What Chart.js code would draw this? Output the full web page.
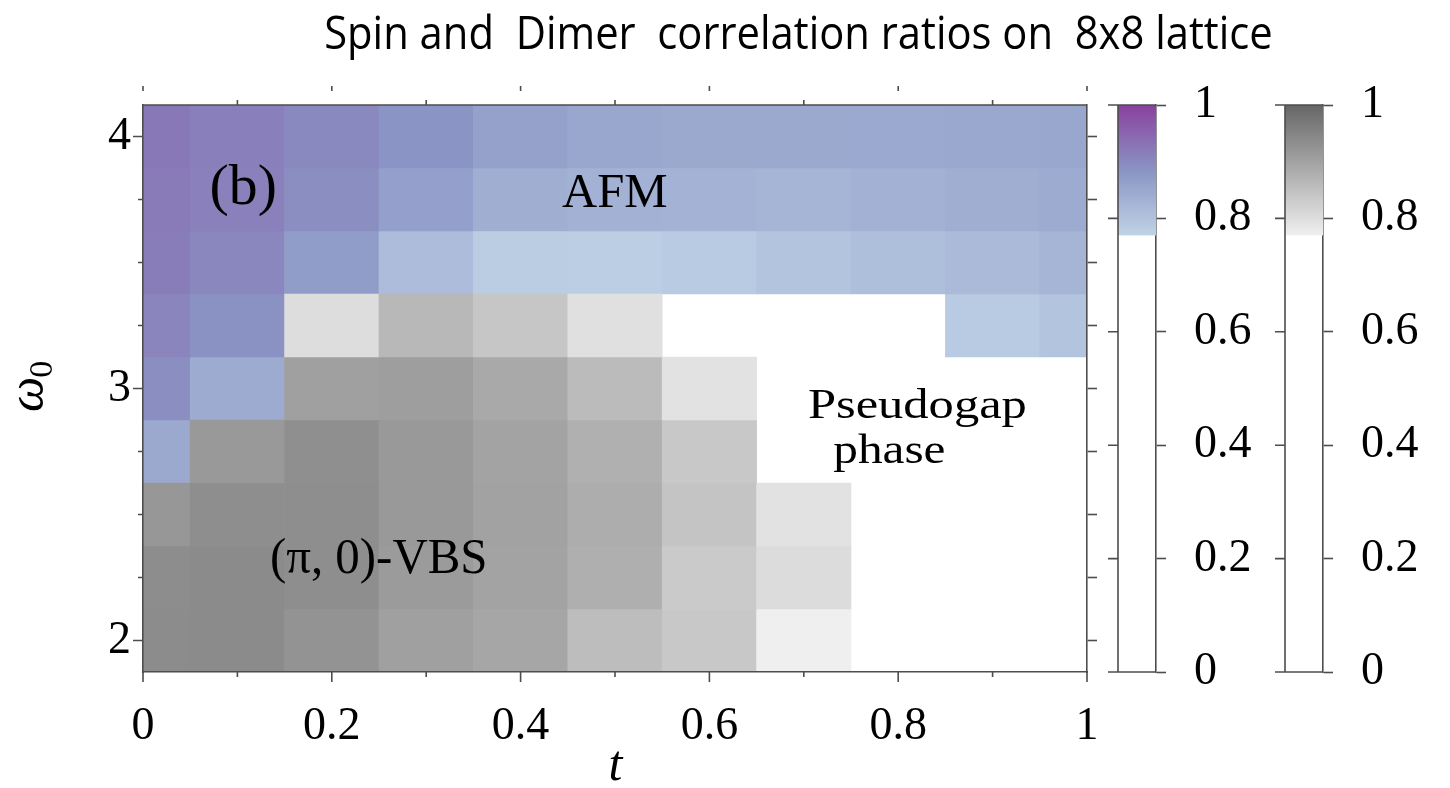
<!DOCTYPE html>
<html lang="en">
<head>
<meta charset="UTF-8">
<title>Spin and Dimer correlation ratios</title>
<script src="https://cdn.jsdelivr.net/npm/chart.js"></script>
<style>
  html, body { margin: 0; padding: 0; background: #ffffff; }
</style>
</head>
<body>
<canvas id="grafico" width="1450" height="788"></canvas>

<script>
// columns (t) and rows (omega_0)
const tValues = [0, 0.1, 0.2, 0.3, 0.4, 0.5, 0.6, 0.7, 0.8, 0.9, 1.0];
const omegaValues = [2.0, 2.25, 2.5, 2.75, 3.0, 3.25, 3.5, 3.75, 4.0];

// spin correlation ratio, one row per omega_0 (bottom -> top), null = below the colour range
const spinRatio = [
  [null, null, null, null, null, null, null, null, null, null, null],
  [null, null, null, null, null, null, null, null, null, null, null],
  [null, null, null, null, null, null, null, null, null, null, null],
  [0.847, null, null, null, null, null, null, null, null, null, null],
  [0.893, 0.843, null, null, null, null, null, null, null, null, null],
  [0.906, 0.889, null, null, null, null, null, null, null, 0.785, 0.797],
  [0.917, 0.904, 0.869, 0.812, 0.781, 0.779, 0.785, 0.797, 0.806, 0.816, 0.825],
  [0.921, 0.913, 0.893, 0.863, 0.838, 0.830, 0.828, 0.825, 0.832, 0.838, 0.843],
  [0.924, 0.914, 0.900, 0.883, 0.861, 0.852, 0.847, 0.847, 0.848, 0.850, 0.853]
];

// dimer correlation ratio, same layout
const dimerRatio = [
  [0.937, 0.938, 0.925, 0.903, 0.893, 0.855, 0.837, 0.772, null, null, null],
  [0.935, 0.938, 0.933, 0.912, 0.898, 0.878, 0.833, 0.803, null, null, null],
  [0.918, 0.933, 0.933, 0.915, 0.900, 0.882, 0.843, 0.793, null, null, null],
  [null, 0.915, 0.932, 0.915, 0.898, 0.877, 0.837, null, null, null, null],
  [null, null, 0.903, 0.907, 0.888, 0.858, 0.793, null, null, null, null],
  [null, null, 0.802, 0.863, 0.840, 0.797, null, null, null, null, null],
  [null, null, null, null, null, null, null, null, null, null, null],
  [null, null, null, null, null, null, null, null, null, null, null],
  [null, null, null, null, null, null, null, null, null, null, null]
];

// ticks
const xTickValues = [0, 0.1, 0.2, 0.3, 0.4, 0.5, 0.6, 0.7, 0.8, 0.9, 1.0];
const xTickLabels = ['0', '', '0.2', '', '0.4', '', '0.6', '', '0.8', '', '1'];
const yTickValues = [2.0, 2.25, 2.5, 2.75, 3.0, 3.25, 3.5, 3.75, 4.0];
const yTickLabels = ['2', '', '', '', '3', '', '', '', '4'];
const cbTickValues = [0, 0.2, 0.4, 0.6, 0.8, 1.0];
const cbTickLabels = ['0', '0.2', '0.4', '0.6', '0.8', '1'];

const titleText = 'Spin and  Dimer  correlation ratios on  8x8 lattice';

// text inside the map (t, omega_0 of the baseline centre)
const annotations = [
  { text: '(b)', t: 0.106, w: 3.732, size: 58, ink: 63 },
  { text: 'AFM', t: 0.4995, w: 3.721, size: 49, ink: 105 },
  { text: 'Pseudogap', t: 0.820, w: 2.882, size: 43, ink: 216 },
  { text: 'phase', t: 0.790, w: 2.703, size: 43, ink: 111 },
  { text: '(π, 0)-VBS', t: 0.2493, w: 2.269, size: 50, ink: 213 }
];

// colour maps (value -> rgb), shown only above the threshold
const colorThreshold = 0.77;
const spinStops = [[0.77, [191, 211, 230]], [0.885, [138, 148, 196]], [1.0, [136, 65, 157]]];
const dimerStops = [[0.77, [240, 240, 240]], [1.0, [102, 102, 102]]];

const SERIF = "'Liberation Serif', 'DejaVu Serif', serif";
const axisColor = '#4d4d4d';

function mix(stops, v) {
  if (v <= stops[0][0]) return stops[0][1];
  for (let i = 1; i < stops.length; i++) {
    if (v <= stops[i][0]) {
      const v0 = stops[i - 1][0], c0 = stops[i - 1][1];
      const v1 = stops[i][0], c1 = stops[i][1];
      const f = (v - v0) / (v1 - v0);
      return c0.map((c, k) => Math.round(c + (c1[k] - c) * f));
    }
  }
  return stops[stops.length - 1][1];
}
const rgb = c => `rgb(${c[0]},${c[1]},${c[2]})`;

const half = (omegaValues[1] - omegaValues[0]) / 2;

// one floating bar per cell
function cellData(values) {
  const out = [];
  omegaValues.forEach((w, i) => {
    tValues.forEach((t, j) => {
      const v = values[i][j];
      if (v === null) return;
      out.push({ x: t, y: [w - half, w + half], v: v });
    });
  });
  return out;
}

// text drawn with its ink squeezed/stretched to a given width
function drawText(ctx, str, cx, baseline, font, inkWidth) {
  ctx.save();
  ctx.font = font;
  ctx.textAlign = 'left';
  ctx.textBaseline = 'alphabetic';
  const m = ctx.measureText(str);
  const w = m.actualBoundingBoxLeft + m.actualBoundingBoxRight;
  const sx = inkWidth ? inkWidth / w : 1;
  ctx.translate(cx, baseline);
  ctx.scale(sx, 1);
  ctx.fillText(str, -(m.actualBoundingBoxRight - m.actualBoundingBoxLeft) / 2, 0);
  ctx.restore();
}

const decorations = {
  id: 'decorations',
  afterDraw(chart) {
    const ctx = chart.ctx;
    const { top, bottom, left, right } = chart.chartArea;
    const sx = chart.scales.x, sy = chart.scales.y;

    ctx.save();
    ctx.strokeStyle = axisColor;
    ctx.lineWidth = 1.6;
    ctx.beginPath();
    ctx.moveTo(left, top); ctx.lineTo(right, top);
    sx.ticks.forEach((tk, i) => {
      const px = sx.getPixelForValue(tk.value);
      const major = xTickLabels[i] !== '';
      ctx.moveTo(px, bottom); ctx.lineTo(px, bottom + (major ? 10 : 5));
      if (major) { ctx.moveTo(px, top - 19); ctx.lineTo(px, top - 14); }
      else { ctx.moveTo(px, top); ctx.lineTo(px, top - 5); }
    });
    sy.ticks.forEach((tk, i) => {
      const py = sy.getPixelForValue(tk.value);
      const major = yTickLabels[i] !== '';
      ctx.moveTo(left, py); ctx.lineTo(left - (major ? 10 : 5), py);
    });
    ctx.stroke();

    // colour bars
    [['cb1', spinStops], ['cb2', dimerStops]].forEach(([id, stops]) => {
      const s = chart.scales[id];
      const x1 = s.left, x0 = x1 - 38;
      const yLo = s.getPixelForValue(colorThreshold), yHi = s.getPixelForValue(1);
      const g = ctx.createLinearGradient(0, yLo, 0, yHi);
      for (let k = 0; k <= 20; k++) {
        g.addColorStop(k / 20, rgb(mix(stops, colorThreshold + (1 - colorThreshold) * k / 20)));
      }
      ctx.fillStyle = g;
      ctx.fillRect(x0, yHi, x1 - x0, yLo - yHi);
      ctx.beginPath();
      ctx.moveTo(x0, s.top); ctx.lineTo(x0, s.bottom);
      s.ticks.forEach(tk => {
        const py = s.getPixelForValue(tk.value);
        ctx.moveTo(x0 - 10, py); ctx.lineTo(x0, py);
      });
      ctx.moveTo(x0, s.top); ctx.lineTo(x1, s.top);
      ctx.moveTo(x0, s.bottom); ctx.lineTo(x1, s.bottom);
      ctx.stroke();
    });

    ctx.fillStyle = '#000000';
    // title
    drawText(ctx, titleText, 798.5, 49, "46px 'Open Sans'", 945);

    // annotations
    annotations.forEach(a => {
      drawText(ctx, a.text, sx.getPixelForValue(a.t), sy.getPixelForValue(a.w), `${a.size}px ${SERIF}`, a.ink);
    });

    // axis titles
    drawText(ctx, 't', sx.getPixelForValue(0.5) + 2, 780, `italic 50px ${SERIF}`);
    ctx.save();
    ctx.translate(43, 412);
    ctx.rotate(-Math.PI / 2);
    ctx.textAlign = 'left';
    ctx.textBaseline = 'alphabetic';
    ctx.font = `italic 50px ${SERIF}`;
    ctx.fillText('ω', 0, 0);
    const wW = ctx.measureText('ω').width;
    ctx.font = `34px ${SERIF}`;
    ctx.fillText('0', wW - 1, 9);
    ctx.restore();
    ctx.restore();
  }
};

const tickFont = { family: SERIF, size: 46 };

new Chart(document.getElementById('grafico'), {
  type: 'bar',
  data: {
    datasets: [
      {
        label: 'Dimer',
        data: cellData(dimerRatio),
        xAxisID: 'x', yAxisID: 'y',
        backgroundColor: c => c.raw ? rgb(mix(dimerStops, c.raw.v)) : 'transparent',
        grouped: false, barPercentage: 1, categoryPercentage: 1, borderWidth: 0, clip: 0
      },
      {
        label: 'Spin',
        data: cellData(spinRatio),
        xAxisID: 'x', yAxisID: 'y',
        backgroundColor: c => c.raw ? rgb(mix(spinStops, c.raw.v)) : 'transparent',
        grouped: false, barPercentage: 1, categoryPercentage: 1, borderWidth: 0, clip: 0
      }
    ]
  },
  options: {
    responsive: false,
    animation: false,
    layout: { padding: { top: 105, left: 0, right: 0, bottom: 0 } },
    plugins: {
      legend: { display: false },
      title: { display: false },
      tooltip: { enabled: false }
    },
    scales: {
      x: {
        type: 'linear', position: 'bottom', offset: false,
        min: tValues[0], max: tValues[tValues.length - 1],
        afterBuildTicks: s => { s.ticks = xTickValues.map(v => ({ value: v })); },
        afterFit: s => { s.height = 116; },
        ticks: {
          callback: (v, i) => xTickLabels[i],
          font: tickFont, color: '#000000', padding: 17,
          maxRotation: 0, autoSkip: false
        },
        grid: { offset: false, drawOnChartArea: false, tickLength: 10, tickColor: 'transparent' },
        border: { color: axisColor, width: 1.6, z: 1 }
      },
      y: {
        type: 'linear', position: 'left',
        min: omegaValues[0] - half, max: omegaValues[omegaValues.length - 1] + half,
        afterBuildTicks: s => { s.ticks = yTickValues.map(v => ({ value: v })); },
        afterFit: s => { s.width = 143; },
        ticks: {
          callback: (v, i) => yTickLabels[i],
          font: tickFont, color: '#000000', padding: 2, autoSkip: false
        },
        grid: { drawOnChartArea: false, tickLength: 10, tickColor: 'transparent' },
        border: { color: axisColor, width: 1.6, z: 1 }
      },
      y2: {
        type: 'linear', position: 'right', weight: 0,
        min: omegaValues[0] - half, max: omegaValues[omegaValues.length - 1] + half,
        afterBuildTicks: s => { s.ticks = yTickValues.map(v => ({ value: v })); },
        afterFit: s => { s.width = 69; },
        ticks: { display: false },
        grid: { drawOnChartArea: false, tickLength: 10, tickColor: axisColor, tickWidth: 1.6 },
        border: { color: axisColor, width: 1.6, z: 1 }
      },
      cb1: {
        type: 'linear', position: 'right', weight: 1, min: 0, max: 1,
        afterBuildTicks: s => { s.ticks = cbTickValues.map(v => ({ value: v })); },
        afterFit: s => { s.width = 167; },
        ticks: {
          callback: (v, i) => cbTickLabels[i],
          font: tickFont, color: '#000000', padding: 28, autoSkip: false
        },
        grid: { drawOnChartArea: false, tickLength: 10, tickColor: axisColor, tickWidth: 1.6 },
        border: { color: axisColor, width: 1.6, z: 1 }
      },
      cb2: {
        type: 'linear', position: 'right', weight: 2, min: 0, max: 1,
        afterBuildTicks: s => { s.ticks = cbTickValues.map(v => ({ value: v })); },
        afterFit: s => { s.width = 127; },
        ticks: {
          callback: (v, i) => cbTickLabels[i],
          font: tickFont, color: '#000000', padding: 28, autoSkip: false
        },
        grid: { drawOnChartArea: false, tickLength: 10, tickColor: axisColor, tickWidth: 1.6 },
        border: { color: axisColor, width: 1.6, z: 1 }
      }
    }
  },
  plugins: [decorations]
});
</script>
</body>
</html>
